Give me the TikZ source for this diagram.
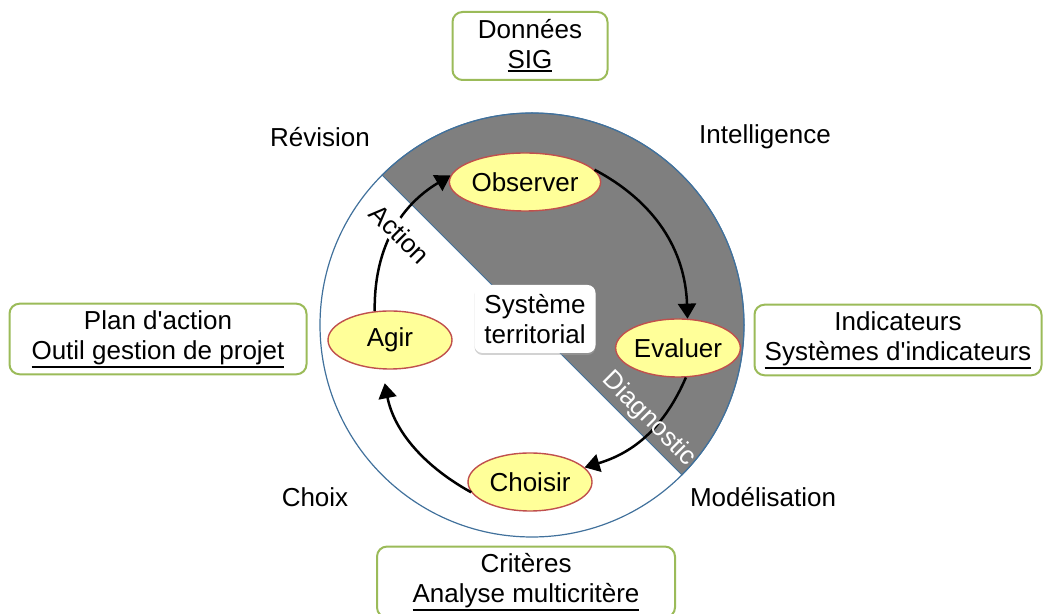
\documentclass[tikz,border=0pt]{standalone}
\usepackage{fontspec}
\setmainfont{Liberation Sans}
\usetikzlibrary{arrows.meta,shapes.geometric,shadows}
\definecolor{ringblue}{RGB}{65,113,156}
\definecolor{diaggray}{RGB}{127,127,127}
\definecolor{phasefill}{RGB}{255,255,153}
\definecolor{phaseline}{RGB}{192,80,77}
\definecolor{toolgreen}{RGB}{155,187,89}
\newcommand{\toolname}[1]{\setbox0=\hbox{#1}\leavevmode
  \vtop{\box0\kern0.6pt\hrule height 0.9pt}}
\tikzset{
  phase/.style    = {ellipse, draw=phaseline, fill=phasefill, line width=0.7pt,
                     minimum width=62pt, minimum height=29pt, inner sep=0pt},
  toolbox/.style  = {rectangle, rounded corners=5pt, draw=toolgreen,
                     line width=1pt, fill=white, align=center,
                     minimum height=34pt},
  loop/.style     = {line width=1.25pt, -{Triangle[length=7.5pt,width=9pt]}},
  sector/.style   = {rotate=-45, inner sep=1pt}
}

\begin{document}
\begin{tikzpicture}[x=0.5pt, y=0.5pt, font=\fontsize{13}{15}\selectfont]
 \useasboundingbox (0,0) rectangle (1043,614);
 \clip (0,0) rectangle (1043,614);

  \coordinate (c) at (532,289);
  \fill[diaggray, draw=ringblue, line width=0.5pt]
    (c) ++(-45:212) arc (-45:135:212) -- cycle;
  \draw[ringblue, line width=0.6pt] (c) circle (212);

  \node[rectangle, rounded corners=4pt, fill=white, align=left,
        minimum width=60.5pt, minimum height=34pt,
        drop shadow={shadow xshift=0pt, shadow yshift=-1pt, fill=gray!70}]
    (sys) at (535,295) {Système\\territorial};

  \node[phase] (obs) at (525,432) {Observer};
  \node[phase] (eva) at (678,266) {Evaluer};
  \node[phase] (cho) at (530,132) {Choisir};
  \node[phase] (agi) at (390,274) {Agir};

  \draw[loop] (obs.10) to[bend left=30] (eva.72);
  \draw[loop] (eva.-75) to[bend left=25] (cho.15);
  \draw[loop, shorten >=7pt] (cho.190) to[bend left=25] (agi.255);
  \draw[loop] (agi.118) to[bend left=30] (obs.175);

  \node[sector, fill=white] (act) at (400,380) {Action};
  \node[sector, text=white] (diag) at (649,195) {Diagnostic};

  \node (rev) at (320,477) {Révision};
  \node (int) at (765,477) {Intelligence};
  \node (chx) at (315,117) {Choix};
  \node (mod) at (763,117) {Modélisation};

  \node[toolbox, minimum width=77.5pt] (sig) at (530,568)
    {Données\\\toolname{SIG}};
  \node[toolbox, minimum width=148.5pt] (plan) at (158,275)
    {Plan d\textquotesingle action\\\toolname{Outil gestion de projet}};
  \node[toolbox, minimum width=143.5pt] (ind) at (898,274)
    {Indicateurs\\\toolname{Systèmes d\textquotesingle indicateurs}};
  \node[toolbox, minimum width=149pt] (crit) at (526,32)
    {Critères\\\toolname{Analyse multicritère}};
\end{tikzpicture}
\end{document}
